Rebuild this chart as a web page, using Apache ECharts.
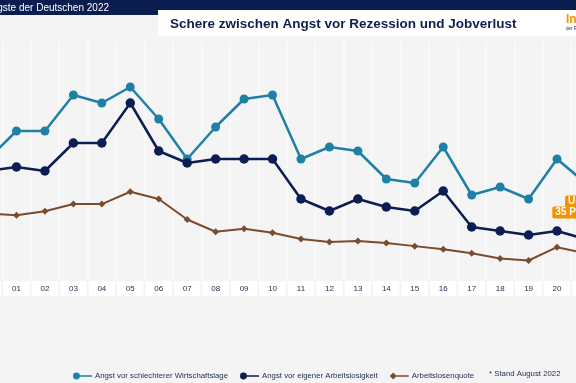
<!DOCTYPE html>
<html><head><meta charset="utf-8">
<script src="https://cdn.jsdelivr.net/npm/echarts@6/dist/echarts.min.js"></script>
<style>html,body{margin:0;padding:0;background:#f4f4f4;overflow:hidden}#c{width:576px;height:383px}</style>
</head><body><div id="c"></div>
<script>
// Categories (years 2000..2021, two-digit labels)
const years = ['00','01','02','03','04','05','06','07','08','09','10','11','12','13','14','15','16','17','18','19','20','21'];
// Angst vor schlechterer Wirtschaftslage (%)
const wirtschaftslage = [46,53,53,62,60,64,56,46,54,61,62,46,49,48,41,40,49,37,39,36,46,40];
// Angst vor eigener Arbeitslosigkeit (%)
const arbeitslosigkeit = [43,44,43,50,50,60,48,45,46,46,46,36,33,36,34,33,38,29,28,27,28,26];
// Arbeitslosenquote (%)
const arbeitslosenquote = [9.6,9.4,9.8,10.5,10.5,11.7,11.0,9.0,7.8,8.1,7.7,7.1,6.8,6.9,6.7,6.4,6.1,5.7,5.2,5.0,6.3,5.7];
const seriesNames = ['Angst vor schlechterer Wirtschaftslage','Angst vor eigener Arbeitslosigkeit','Arbeitslosenquote'];

const FONT = 'Liberation Sans, Arial, sans-serif';
const TEAL = '#1f80a5', NAVY = '#0b1d52', BROWN = '#7a4b2d', ORANGE = '#f39200';
const chart = echarts.init(document.getElementById('c'), null, {renderer:'canvas'});
const circIcon = 'path://M4,0A4,4 0 1,1 4,8A4,4 0 1,1 4,0Z M7,3.1L22,3.1L22,4.9L7,4.9Z';
const diaIcon = 'path://M4,0L8,4L4,8L0,4Z M7,3.2L22,3.2L22,4.8L7,4.8Z';
chart.setOption({
  backgroundColor:'#f4f4f4',
  animation:false,
  grid:{left:-26.2, width:625.9, top:41, bottom:102, outerBoundsMode:'none', containLabel:false},
  xAxis:{type:'category', data:years, boundaryGap:true,
    axisLine:{show:false}, axisTick:{show:false},
    splitLine:{show:true, interval:0, lineStyle:{color:'#fbfbfb', width:1.5}},
    axisLabel:{interval:0, margin:0, color:'#1d2b4f', fontSize:8, fontFamily:FONT, hideOverlap:false,
      backgroundColor:'#ffffff', width:26.4, height:15, lineHeight:15, align:'center', verticalAlign:'top', padding:0}
  },
  yAxis:[
    {type:'value', min:15.5, max:75.5, show:false},
    {type:'value', min:3, max:26.4, show:false}
  ],
  legend:{left:68, top:367, itemWidth:19, itemHeight:7, itemGap:12,
    textStyle:{fontSize:7.8, color:'#1d2b4f', fontFamily:FONT, padding:[0,0,0,-2]},
    data:[{name:seriesNames[0], icon:circIcon},{name:seriesNames[1], icon:circIcon},{name:seriesNames[2], icon:diaIcon}]
  },
  series:[
    {name:seriesNames[0], type:'line', data:wirtschaftslage, yAxisIndex:0, symbol:'circle', symbolSize:9,
      lineStyle:{color:TEAL, width:2.5}, itemStyle:{color:TEAL}, z:2},
    {name:seriesNames[1], type:'line', data:arbeitslosigkeit, yAxisIndex:0, symbol:'circle', symbolSize:9.5,
      lineStyle:{color:NAVY, width:2.5}, itemStyle:{color:NAVY}, z:3},
    {name:seriesNames[2], type:'line', data:arbeitslosenquote, yAxisIndex:1, symbol:'diamond', symbolSize:7,
      lineStyle:{color:BROWN, width:2}, itemStyle:{color:BROWN}, z:2}
  ],
  graphic:[
    {type:'rect', shape:{x:0,y:0,width:576,height:15}, style:{fill:'#0b1d4f'}, z:10},
    {type:'text', x:109, y:8, style:{text:'Die Ängste der Deutschen 2022', fill:'#ffffff', font:'10px '+FONT, textAlign:'right', textVerticalAlign:'middle'}, z:11},
    {type:'rect', shape:{x:158,y:10,width:420,height:26}, style:{fill:'#ffffff'}, z:12},
    {type:'text', x:170, y:24.5, style:{text:'Schere zwischen Angst vor Rezession und Jobverlust', fill:'#0d1f4d', font:'bold 13.5px '+FONT, textVerticalAlign:'middle'}, z:13},
    {type:'text', x:566, y:20, style:{text:'Infocenter', fill:ORANGE, font:'bold 12px '+FONT, textVerticalAlign:'middle'}, z:13},
    {type:'text', x:566, y:29, style:{text:'der R+V Versicherung', fill:'#0d1f4d', font:'4.5px '+FONT, textVerticalAlign:'middle'}, z:13},
    {type:'text', x:597, y:196, style:{text:'{a|Unterschied}\n{a|35 Prozentpunkte}', textAlign:'center',
      rich:{a:{fill:'#ffffff', font:'bold 10px '+FONT, backgroundColor:ORANGE, padding:[1,3,1,3], borderRadius:2, lineHeight:11, align:'center'}}}, z:14},
    {type:'text', x:489, y:374, style:{text:'* Stand August 2022', fill:'#1d2b4f', font:'7.8px '+FONT, textVerticalAlign:'middle'}, z:13}
  ]
});
</script></body></html>
